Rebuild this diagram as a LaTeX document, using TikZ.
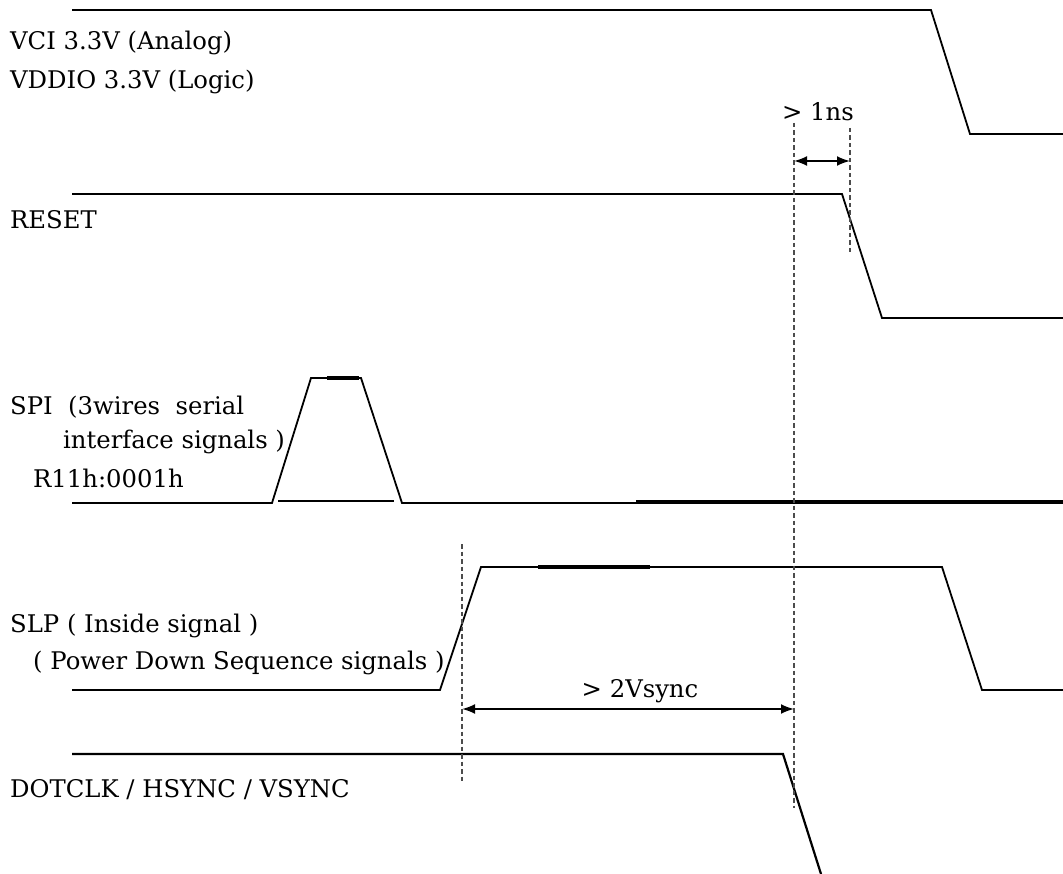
\documentclass[tikz,border=0pt]{standalone}
\usepackage{fontspec}
\setmainfont{DejaVu Serif}
\usetikzlibrary{arrows.meta, positioning}

\tikzset{
  wave/.style={line width=1.8pt, line join=miter},
  wavebold/.style={line width=3.4pt},
  guide/.style={gray!60!black, line width=1.3pt, dash pattern=on 4.5pt off 3pt},
  dimarrow/.style={line width=2pt, {Latex[length=13pt,width=10pt]}-{Latex[length=13pt,width=10pt]}},
  sig/.style={anchor=west, inner sep=0pt, font=\fontsize{24.3}{28}\selectfont},
  dimlabel/.style={inner sep=0pt, font=\fontsize{24.3}{28}\selectfont},
}

\begin{document}
\begin{tikzpicture}[x=1pt, y=-1pt]
    \useasboundingbox (0,0) rectangle (1063,874);
    % VCI / VDDIO
    \draw[wave] (72,10) -- (931,10) -- (970,134) -- (1063,134);
    \node[sig] (vci) at (10,43) {VCI 3.3V (Analog)};
    \node[sig] (vddio) at (10,82) {VDDIO 3.3V (Logic)};
    % RESET
    \draw[wave] (72,194) -- (842,194) -- (882,318) -- (1063,318);
    \node[sig] (reset) at (10,220) {RESET};
    % SPI
    \draw[wave] (72,503) -- (272,503) -- (311,378) -- (361,378) -- (402,503) -- (1063,503);
    \draw[wave] (278,501) -- (394,501);
    \draw[wavebold] (327,378) -- (359,378);
    \draw[wavebold] (636,502) -- (1063,502);
    \node[sig] (spi) at (10,407) {SPI\ \ (3wires\ \ serial};
    \node[sig] (spi2) at (63,442) {interface signals )};
    \node[sig] (spi3) at (33,478) {R11h:0001h};
    % SLP
    \draw[wave] (72,690) -- (440,690) -- (481,567) -- (942,567) -- (982,690) -- (1063,690);
    \draw[wavebold] (538,567) -- (650,567);
    \node[sig] (slp) at (10,626) {SLP ( Inside signal )};
    \node[sig] (slp2) at (33,663) {( Power Down Sequence signals )};
    % DOTCLK / HSYNC / VSYNC
    \draw[wave, line width=2.2pt] (72,754) -- (783,754) -- (821,874);
    \node[sig] (dotclk) at (10,790) {DOTCLK / HSYNC / VSYNC};
    % timing guides
    \draw[guide] (794,123) -- (794,808);
    \draw[guide] (850,128) -- (850,253);
    \draw[guide] (462,544) -- (462,782);
    % > 1ns
    \coordinate (ns-a) at (794,161);
    \coordinate (ns-b) at (850,161);
    \draw[dimarrow] (ns-a) -- (ns-b);
    \node[dimlabel] (ns) at (818,112) {> 1ns};
    % > 2Vsync
    \coordinate (vs-a) at (462,709);
    \coordinate (vs-b) at (794,709);
    \draw[dimarrow] (vs-a) -- (vs-b);
    \node[dimlabel] (vs) at (640,691) {> 2Vsync};
\end{tikzpicture}
\end{document}
